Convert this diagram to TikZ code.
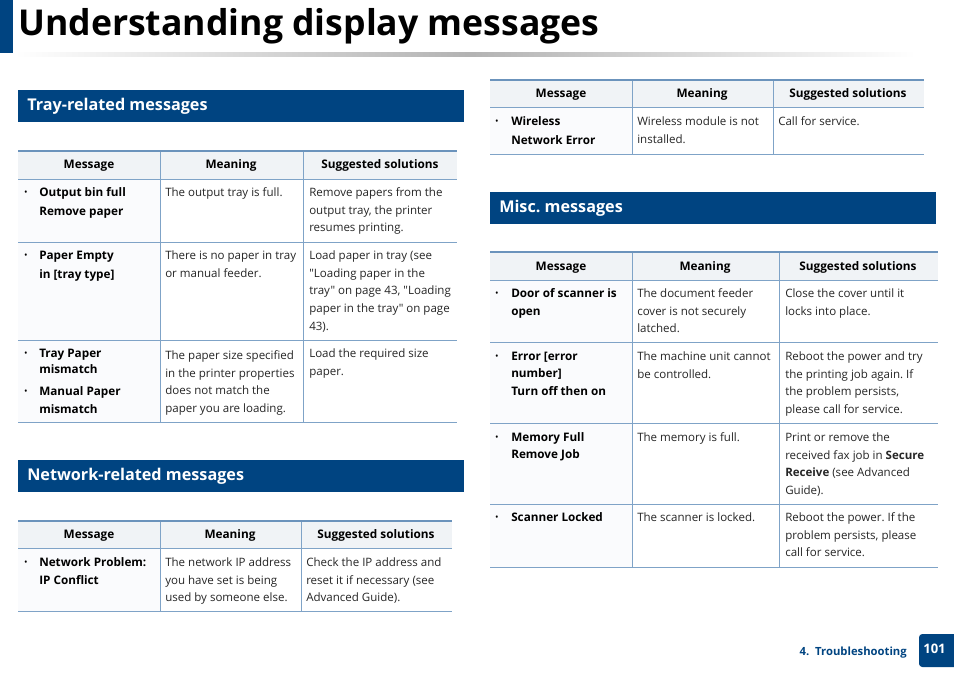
\documentclass[tikz,border=0pt]{standalone}
\usepackage{fontspec}
\setmainfont[Ligatures=TeXOff]{Open Sans}
\usetikzlibrary{positioning}
\definecolor{barblue}{HTML}{004481}
\definecolor{rulecol}{HTML}{7FA3C7}
\definecolor{toprule}{HTML}{6B93BC}
\definecolor{headfill}{HTML}{F0F3F6}
\definecolor{msgfill}{HTML}{FAFBFD}
\tikzset{
  body/.style={anchor=north west,inner sep=0pt,align=left,yshift=3.25pt,execute at begin node={\rule{0pt}{7pt}},font=\fontsize{8.65}{13.2}\selectfont,text=black!85},
  msg/.style={body,font=\fontsize{8.8}{13.2}\selectfont\bfseries,text=black},
  oneline/.style={yshift=0.75pt},
  bul/.style={anchor=center,inner sep=0pt,yshift=-1.2pt,font=\fontsize{7}{7}\selectfont},
  head/.style={anchor=base,inner sep=0pt,yshift=-3pt,font=\fontsize{8.85}{10}\selectfont\bfseries,text=black},
  bar/.style={anchor=west,inner sep=0pt,yshift=-1.5pt,text=white,font=\fontsize{12.15}{14}\selectfont\bfseries},
  rowline/.style={draw=rulecol,line width=0.75pt},
  topline/.style={draw=toprule,line width=1.6pt}
}
\begin{document}
\frenchspacing
\begin{tikzpicture}[x=0.75pt,y=-0.75pt]
\useasboundingbox (0,0) rectangle (954,675);
\fill[white] (0,0) rectangle (954,675);
% page title
\fill[barblue] (0,0) rectangle (13,53);
\shade[left color=white,right color=black!30] (15,52) rectangle (470,56);
\shade[left color=black!30,right color=white] (470,52) rectangle (915,56);
\node[anchor=base west,inner sep=0pt,font=\fontsize{26.7}{30}\selectfont\bfseries] (pagetitle) at (18,35) {Understanding display messages};
% section bars
\fill[barblue] (18,90) rectangle (464,122);
\node[bar] (traybar) at (27,104.5) {Tray-related messages};
\fill[barblue] (18,460) rectangle (464,492);
\node[bar] (netbar) at (27,474.5) {Network-related messages};
\fill[barblue] (490,192) rectangle (936,224);
\node[bar] (miscbar) at (499,206.5) {Misc. messages};
% tray table
\fill[headfill] (18,151) rectangle (457,179.5);
\fill[msgfill] (18,179.5) rectangle (160,422);
\foreach \y in {179.5,242,340,422} \draw[rowline] (18,\y) -- (457,\y);
\foreach \x in {160,303} \draw[rowline] (\x,151) -- (\x,422);
\draw[topline] (18,151) -- (457,151);
\node[head] (trayA) at (89,164) {Message};
\node[head] (trayB) at (231,164) {Meaning};
\node[head] (trayC) at (380,164) {Suggested solutions};
\node[bul] (trayDotA) at (26,192) {•};
\node[msg] (trayMsgA) at (39,192) {Output bin full\\[1pt]Remove paper};
\node[body,oneline] (trayMeanA) at (165,192) {The output tray is full.};
\node[body] (traySolA) at (309,192) {Remove papers from the\\output tray, the printer\\resumes printing.};
\node[bul] (trayDotB) at (26,255) {•};
\node[msg] (trayMsgB) at (39,255) {Paper Empty\\[1pt]in [tray type]};
\node[body] (trayMeanB) at (165,255) {There is no paper in tray\\or manual feeder.};
\node[body] (traySolB) at (309,255) {Load paper in tray (see\\"Loading paper in the\\tray" on page 43, "Loading\\paper in the tray" on page\\43).};
\node[bul] (trayDotC) at (26,353) {•};
\node[msg] (trayMsgC) at (39,353) {Tray Paper\\[-1pt]mismatch};
\node[bul] (trayDotD) at (26,391) {•};
\node[msg] (trayMsgD) at (39,391) {Manual Paper\\mismatch};
\node[body] (trayMeanC) at (165,355) {The paper size specified\\in the printer properties\\does not match the\\paper you are loading.};
\node[body] (traySolC) at (309,353) {Load the required size\\paper.};
% network table
\fill[headfill] (18,521) rectangle (452,548);
\fill[msgfill] (18,548) rectangle (160,611);
\foreach \y in {548,611} \draw[rowline] (18,\y) -- (452,\y);
\foreach \x in {160,301} \draw[rowline] (\x,521) -- (\x,611);
\draw[topline] (18,521) -- (452,521);
\node[head] (netA) at (89,534) {Message};
\node[head] (netB) at (230,534) {Meaning};
\node[head] (netC) at (376,534) {Suggested solutions};
\node[bul] (netDotA) at (26,562) {•};
\node[msg] (netMsgA) at (39,562) {Network Problem:\\IP Conflict};
\node[body] (netMeanA) at (165,562) {The network IP address\\you have set is being\\used by someone else.};
\node[body] (netSolA) at (306,562) {Check the IP address and\\reset it if necessary (see\\Advanced Guide).};
% wireless table
\fill[headfill] (490,80) rectangle (924,107);
\fill[msgfill] (490,107) rectangle (632,154);
\foreach \y in {107,154} \draw[rowline] (490,\y) -- (924,\y);
\foreach \x in {632,773} \draw[rowline] (\x,80) -- (\x,154);
\draw[topline] (490,80) -- (924,80);
\node[head] (wifiA) at (561,93) {Message};
\node[head] (wifiB) at (702,93) {Meaning};
\node[head] (wifiC) at (848,93) {Suggested solutions};
\node[bul] (wifiDotA) at (497,121) {•};
\node[msg] (wifiMsgA) at (511,121) {Wireless\\[1pt]Network Error};
\node[body] (wifiMeanA) at (637,121) {Wireless module is not\\installed.};
\node[body,oneline] (wifiSolA) at (778,121) {Call for service.};
% misc table
\fill[headfill] (490,252) rectangle (938,280);
\fill[msgfill] (490,280) rectangle (632,567);
\foreach \y in {280,342,423,504,567} \draw[rowline] (490,\y) -- (938,\y);
\foreach \x in {632,779} \draw[rowline] (\x,252) -- (\x,567);
\draw[topline,line width=2.2pt] (490,252) -- (938,252);
\node[head] (miscA) at (561,266) {Message};
\node[head] (miscB) at (705,266) {Meaning};
\node[head] (miscC) at (858,266) {Suggested solutions};
\node[bul] (miscDotA) at (497,293) {•};
\node[msg] (miscMsgA) at (511,293) {Door of scanner is\\open};
\node[body] (miscMeanA) at (637,293) {The document feeder\\cover is not securely\\latched.};
\node[body] (miscSolA) at (785,293) {Close the cover until it\\locks into place.};
\node[bul] (miscDotB) at (497,356) {•};
\node[msg] (miscMsgB) at (511,356) {Error [error\\number]\\Turn off then on};
\node[body] (miscMeanB) at (637,356) {The machine unit cannot\\be controlled.};
\node[body] (miscSolB) at (785,356) {Reboot the power and try\\the printing job again. If\\the problem persists,\\please call for service.};
\node[bul] (miscDotC) at (497,437) {•};
\node[msg] (miscMsgC) at (511,437) {Memory Full\\[-1pt]Remove Job};
\node[body,oneline] (miscMeanC) at (637,437) {The memory is full.};
\node[body] (miscSolC) at (785,437) {Print or remove the\\received fax job in \textbf{Secure}\\\textbf{Receive} (see Advanced\\Guide).};
\node[bul] (miscDotD) at (497,517) {•};
\node[msg,oneline] (miscMsgD) at (511,517) {Scanner Locked};
\node[body,oneline] (miscMeanD) at (637,517) {The scanner is locked.};
\node[body] (miscSolD) at (785,517) {Reboot the power. If the\\problem persists, please\\call for service.};
% footer
\node[anchor=east,inner sep=0pt,text=barblue,font=\fontsize{8.45}{10}\selectfont\bfseries] (chapter) at (907,653) {4.\ \ Troubleshooting};
\fill[barblue,rounded corners=2.5pt] (919,634) rectangle (960,667);
\node[anchor=center,inner sep=0pt,text=white,font=\fontsize{9.8}{12}\selectfont\bfseries] (pagenum) at (934.5,649) {101};
\end{tikzpicture}
\end{document}
